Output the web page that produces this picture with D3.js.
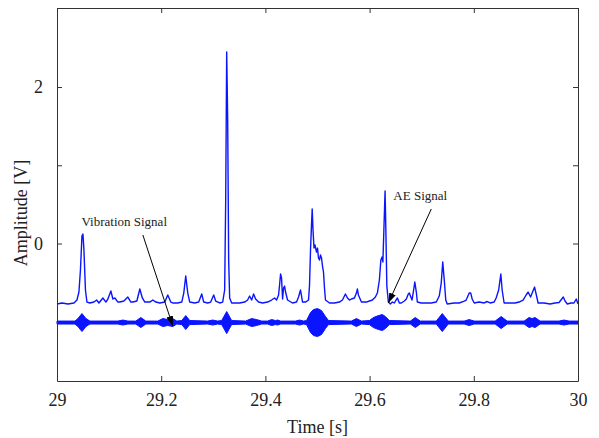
<!DOCTYPE html>
<html>
<head>
<meta charset="utf-8">
<script src="https://cdn.jsdelivr.net/npm/d3@7"></script>
<style>
  html, body { margin: 0; padding: 0; background: #fff; }
  svg { display: block; }
  svg text { font-family: "Liberation Serif", "Times New Roman", serif !important; fill: #222; }
</style>
</head>
<body>
<svg id="chart" width="599" height="438"></svg>
<script>
// ---------- data ----------
const xTicks = [29, 29.2, 29.4, 29.6, 29.8, 30];
const xTickLabels = ["29", "29.2", "29.4", "29.6", "29.8", "30"];
const yTicks = [0, 1, 2];
const yTickLabels = ["0", "", "2"];

// AE signal (envelope of acoustic emission) [s], [V]
const aeTime = [29.0000,29.0096,29.0211,29.0326,29.0383,29.0421,29.0450,29.0479,29.0498,29.0517,29.0546,29.0575,29.0632,29.0709,29.0761,29.0805,29.0881,29.0939,29.0977,29.1034,29.1073,29.1111,29.1169,29.1207,29.1284,29.1360,29.1418,29.1456,29.1533,29.1590,29.1638,29.1686,29.1782,29.1839,29.1897,29.1973,29.2069,29.2126,29.2184,29.2222,29.2318,29.2395,29.2433,29.2471,29.2510,29.2548,29.2644,29.2720,29.2778,29.2816,29.2893,29.2950,29.3008,29.3046,29.3123,29.3180,29.3218,29.3238,29.3257,29.3276,29.3295,29.3314,29.3352,29.3506,29.3602,29.3659,29.3697,29.3736,29.3774,29.3812,29.3870,29.3946,29.4042,29.4119,29.4176,29.4215,29.4253,29.4272,29.4291,29.4310,29.4330,29.4349,29.4368,29.4387,29.4425,29.4521,29.4598,29.4636,29.4674,29.4713,29.4770,29.4828,29.4847,29.4866,29.4885,29.4898,29.4914,29.4933,29.4952,29.4981,29.5000,29.5019,29.5038,29.5057,29.5077,29.5096,29.5115,29.5134,29.5153,29.5230,29.5326,29.5421,29.5479,29.5536,29.5575,29.5613,29.5651,29.5709,29.5747,29.5766,29.5785,29.5843,29.5939,29.5996,29.6054,29.6111,29.6149,29.6188,29.6216,29.6239,29.6255,29.6274,29.6297,29.6312,29.6331,29.6360,29.6398,29.6437,29.6475,29.6533,29.6571,29.6609,29.6667,29.6705,29.6743,29.6762,29.6791,29.6814,29.6839,29.6868,29.6897,29.6916,29.6992,29.7088,29.7184,29.7280,29.7337,29.7375,29.7404,29.7433,29.7462,29.7490,29.7625,29.7720,29.7816,29.7854,29.7912,29.7941,29.7969,29.8008,29.8103,29.8199,29.8257,29.8314,29.8391,29.8429,29.8477,29.8519,29.8544,29.8582,29.8678,29.8793,29.8870,29.8946,29.9004,29.9042,29.9090,29.9128,29.9167,29.9205,29.9234,29.9349,29.9464,29.9559,29.9636,29.9674,29.9718,29.9751,29.9795,29.9866,29.9923,29.9967,30.0000];
const aeAmp = [-0.773,-0.760,-0.773,-0.760,-0.722,-0.620,-0.339,0.096,0.121,-0.083,-0.594,-0.748,-0.760,-0.748,-0.722,-0.760,-0.696,-0.748,-0.709,-0.607,-0.709,-0.696,-0.748,-0.748,-0.735,-0.684,-0.748,-0.748,-0.735,-0.581,-0.696,-0.748,-0.748,-0.722,-0.748,-0.760,-0.748,-0.658,-0.748,-0.760,-0.760,-0.748,-0.633,-0.415,-0.633,-0.748,-0.760,-0.748,-0.645,-0.748,-0.760,-0.748,-0.658,-0.735,-0.760,-0.748,-0.594,0.556,2.447,1.578,-0.211,-0.696,-0.760,-0.760,-0.748,-0.722,-0.671,-0.722,-0.645,-0.709,-0.748,-0.760,-0.748,-0.722,-0.696,-0.722,-0.658,-0.530,-0.390,-0.441,-0.709,-0.569,-0.543,-0.620,-0.722,-0.760,-0.748,-0.684,-0.594,-0.748,-0.748,-0.722,-0.530,-0.083,0.236,0.441,0.173,-0.058,-0.019,-0.109,-0.058,-0.185,-0.211,-0.147,-0.185,-0.288,-0.364,-0.569,-0.722,-0.760,-0.760,-0.748,-0.722,-0.645,-0.696,-0.722,-0.709,-0.696,-0.633,-0.581,-0.658,-0.748,-0.748,-0.735,-0.722,-0.684,-0.633,-0.466,-0.211,-0.173,-0.236,0.173,0.671,0.173,-0.543,-0.748,-0.773,-0.748,-0.760,-0.696,-0.760,-0.760,-0.735,-0.709,-0.645,-0.633,-0.684,-0.722,-0.620,-0.492,-0.620,-0.748,-0.760,-0.760,-0.760,-0.748,-0.671,-0.505,-0.236,-0.466,-0.722,-0.773,-0.760,-0.760,-0.735,-0.722,-0.633,-0.633,-0.709,-0.760,-0.748,-0.760,-0.741,-0.760,-0.748,-0.696,-0.594,-0.390,-0.594,-0.760,-0.760,-0.760,-0.748,-0.722,-0.658,-0.620,-0.684,-0.620,-0.556,-0.671,-0.760,-0.760,-0.773,-0.760,-0.754,-0.722,-0.684,-0.735,-0.773,-0.760,-0.760,-0.709,-0.773];

// Vibration signal: burst envelope (half peak-to-peak) around its offset [s], [V]
const vibOffset = -1.01;
const vibTime = [29.0000,29.0345,29.0402,29.0479,29.0556,29.0632,29.1169,29.1264,29.1360,29.1513,29.1609,29.1705,29.1935,29.2031,29.2126,29.2222,29.2299,29.2395,29.2471,29.2548,29.2893,29.2989,29.3084,29.3161,29.3257,29.3352,29.3621,29.3736,29.3831,29.3927,29.4042,29.4119,29.4195,29.4234,29.4291,29.4579,29.4655,29.4732,29.4789,29.4866,29.4923,29.5000,29.5077,29.5153,29.5211,29.5651,29.5747,29.5843,29.5996,29.6073,29.6169,29.6245,29.6303,29.6379,29.6782,29.6877,29.6973,29.7280,29.7395,29.7510,29.7816,29.7912,29.8008,29.8410,29.8525,29.8640,29.8966,29.9061,29.9119,29.9176,29.9272,29.9636,29.9732,29.9828,30.0000];
const vibHalfAmp = [0.019,0.019,0.051,0.115,0.051,0.019,0.019,0.032,0.019,0.019,0.064,0.019,0.019,0.051,0.038,0.051,0.019,0.026,0.089,0.026,0.019,0.032,0.019,0.026,0.141,0.026,0.019,0.051,0.038,0.019,0.019,0.038,0.026,0.032,0.019,0.019,0.032,0.019,0.026,0.128,0.166,0.179,0.153,0.077,0.026,0.019,0.051,0.019,0.026,0.064,0.089,0.102,0.077,0.026,0.019,0.064,0.019,0.019,0.115,0.019,0.019,0.038,0.019,0.019,0.077,0.019,0.019,0.064,0.051,0.064,0.019,0.019,0.032,0.019,0.019];

// annotations
const annotations = [
  { label: "Vibration Signal", tx: 29.047, ty: 0.224, fx: 29.1648, fy: 0.109, ax: 29.2222, ay: -1.054 },
  { label: "AE Signal", tx: 29.6456, ty: 0.556, fx: 29.7184, fy: 0.441, ax: 29.6360, ay: -0.760 }
];

// ---------- chart ----------
const W = 599, H = 438;
const margin = { left: 57, right: 21, top: 8, bottom: 57 };
const svg = d3.select("#chart");
const x = d3.scaleLinear().domain([29, 30]).range([margin.left, W - margin.right]);
const y = d3.scaleLinear().domain([-1.757, 3.01]).range([H - margin.bottom, margin.top]);

const blue = "#0a14ff";
const serif = '"Liberation Serif", "Times New Roman", serif';

// vibration bursts
const vibData = vibTime.map((t, i) => ({ t, a: vibHalfAmp[i] }));
svg.append("path")
  .datum(vibData)
  .attr("fill", blue)
  .attr("stroke", blue)
  .attr("stroke-width", 1)
  .attr("d", d3.area().x(d => x(d.t)).y0(d => y(vibOffset - d.a)).y1(d => y(vibOffset + d.a)));

// AE signal
const aeData = aeTime.map((t, i) => ({ t, v: aeAmp[i] }));
svg.append("path")
  .datum(aeData)
  .attr("fill", "none")
  .attr("stroke", blue)
  .attr("stroke-width", 1.4)
  .attr("stroke-linejoin", "round")
  .attr("d", d3.line().x(d => x(d.t)).y(d => y(d.v)));

// axes (box with inward ticks)
const axisColor = "#333";
const gB = svg.append("g").attr("transform", `translate(0,${y.range()[0]})`)
  .call(d3.axisBottom(x).tickValues(xTicks).tickSizeInner(-5).tickSizeOuter(0).tickPadding(12)
    .tickFormat((d, i) => xTickLabels[i]));
const gT = svg.append("g").attr("transform", `translate(0,${y.range()[1]})`)
  .call(d3.axisTop(x).tickValues(xTicks).tickSizeInner(-5).tickSizeOuter(0).tickFormat(""));
const gL = svg.append("g").attr("transform", `translate(${x.range()[0]},0)`)
  .call(d3.axisLeft(y).tickValues(yTicks).tickSizeInner(-5).tickSizeOuter(0).tickPadding(14)
    .tickFormat((d, i) => yTickLabels[i]));
const gR = svg.append("g").attr("transform", `translate(${x.range()[1]},0)`)
  .call(d3.axisRight(y).tickValues(yTicks).tickSizeInner(-5).tickSizeOuter(0).tickFormat(""));

[gB, gT, gL, gR].forEach(g => {
  g.attr("font-family", null).style("font-family", serif);
  g.selectAll("path.domain").attr("stroke", axisColor).attr("stroke-width", 1);
  g.selectAll(".tick line").attr("stroke", axisColor).attr("stroke-width", 1);
  g.selectAll(".tick text").style("font-family", serif).attr("font-size", 18).attr("fill", "#222");
});
gB.selectAll(".tick text").attr("dy", "0.71em");

// axis titles
svg.append("text").attr("x", (x.range()[0] + x.range()[1]) / 2).attr("y", 433)
  .attr("text-anchor", "middle").attr("font-size", 18).style("font-family", serif).text("Time [s]");
svg.append("text").attr("transform", `translate(27,${213}) rotate(-90)`)
  .attr("text-anchor", "middle").attr("font-size", 18).style("font-family", serif).text("Amplitude [V]");

// annotations
svg.append("defs").append("marker")
  .attr("id", "arrowhead").attr("viewBox", "0 0 10 10").attr("refX", 10).attr("refY", 5)
  .attr("markerWidth", 10).attr("markerHeight", 10).attr("markerUnits", "userSpaceOnUse")
  .attr("orient", "auto")
  .append("path").attr("d", "M0,1.5 L10,5 L0,8.5 Z").attr("fill", "#000");

annotations.forEach(a => {
  svg.append("text").attr("x", x(a.tx)).attr("y", y(a.ty)).attr("font-size", 13)
    .style("font-family", serif).attr("fill", "#111").text(a.label);
  svg.append("line").attr("x1", x(a.fx)).attr("y1", y(a.fy)).attr("x2", x(a.ax)).attr("y2", y(a.ay))
    .attr("stroke", "#000").attr("stroke-width", 1).attr("marker-end", "url(#arrowhead)");
});
</script>
</body>
</html>
